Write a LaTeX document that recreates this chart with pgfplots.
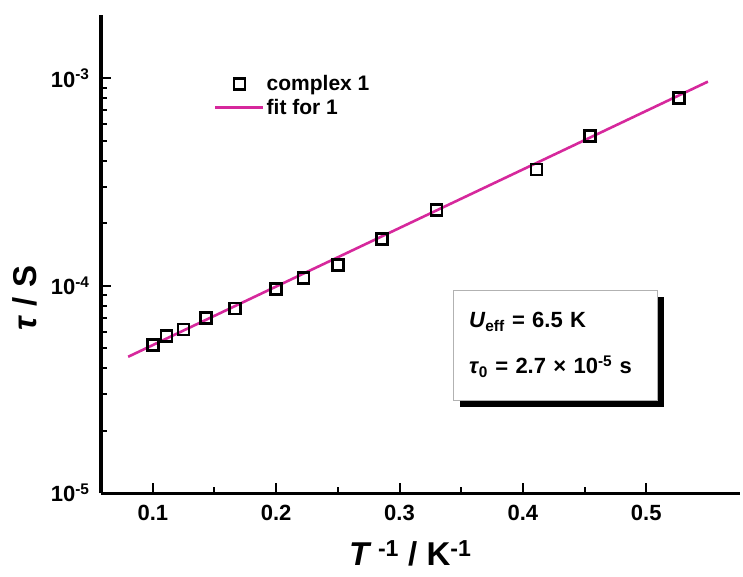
\documentclass[border=0pt]{standalone}
\usepackage{pgfplots}
\pgfplotsset{compat=1.18}
\usepackage{fontspec}
\setmainfont{Liberation Sans}
\usetikzlibrary{shadows}
\definecolor{fitpink}{RGB}{214,40,156}

\pgfplotsset{
  frame/.style={
    at={(101pt,83pt)}, anchor=south west,
    scale only axis, width=639pt, height=478pt,
    xmin=0.058, xmax=0.576,
    ymin=1e-5, ymax=2.02e-3,
    axis x line*=bottom, axis y line*=left,
    axis line style={line width=3pt},
    tick align=inside,
    xtick={0.1,0.2,0.3,0.4,0.5},
  },
}

\begin{document}
\begin{tikzpicture}
% data, labels, legend and inset
\begin{axis}[
  ymode=log, frame,
  every tick/.style={draw=none},
  xticklabels={0.1,0.2,0.3,0.4,0.5},
  ytick={1e-5,1e-4,1e-3},
  yticklabels={10\textsuperscript{-5},10\textsuperscript{-4},10\textsuperscript{-3}},
  tick label style={font=\fontsize{22}{26}\selectfont\bfseries},
  xticklabel style={yshift=-9pt},
  yticklabel style={xshift=-8pt},
  xlabel={\textit{T}\textsuperscript{ -1} / K\textsuperscript{-1}},
  ylabel={\textit{τ} / S},
  label style={font=\fontsize{33}{38}\selectfont\bfseries},
  xlabel style={at={(axis description cs:0.484,-0.127)}, anchor=center},
  ylabel style={at={(axis description cs:-0.119,0.408)}, anchor=center},
  legend image code/.code={%
    \draw[mark repeat=2,mark phase=2,#1] plot coordinates {(0pt,0pt) (24pt,0pt) (48pt,0pt)};},
  legend style={at={(axis description cs:0.172,0.882)}, anchor=north west,
    draw=none, fill=none, font=\fontsize{21}{25}\selectfont\bfseries,
    row sep=3pt, nodes={inner sep=2pt}},
  legend cell align=left,
  legend style={/tikz/every even column/.append style={column sep=8pt}},
]
% relaxation times of complex 1
\addplot[only marks, black, line width=2.6pt, mark=square, mark size=5.5pt,
  mark options={solid, line width=2.6pt, black}]
  coordinates {
  (0.1000,5.19e-5) (0.1111,5.73e-5) (0.1250,6.16e-5) (0.1429,6.97e-5)
  (0.1667,7.76e-5) (0.2000,9.62e-5) (0.2222,1.087e-4) (0.2500,1.26e-4)
  (0.2857,1.68e-4) (0.3300,2.32e-4) (0.4110,3.64e-4) (0.4545,5.28e-4)
  (0.5263,8.06e-4)};
\addlegendentry{complex 1}
% Arrhenius fit
\addplot[fitpink, line width=2.6pt] coordinates {(0.08,4.54e-5) (0.55,9.64e-4)};
\addlegendentry{fit for 1}

\node[draw=gray!60, line width=1pt, fill=white,
  drop shadow={shadow xshift=7pt, shadow yshift=-7pt, opacity=1, fill=black},
  minimum width=204pt, minimum height=110pt, inner xsep=16pt,
  text width=172pt, align=left,
  font=\fontsize{22}{26}\selectfont\bfseries]
  at (axis description cs:0.7105,0.3096)
  {\textit{U}\textsubscript{eff} = 6.5 K\\[20pt]
   \textit{τ}\textsubscript{0} = 2.7 × 10\textsuperscript{-5} s};
\end{axis}
% axis lines and tick marks
\begin{axis}[
  ymode=log, frame,
  major tick length=10pt, minor tick length=6pt,
  every tick/.style={black, line width=2pt},
  minor x tick num=1,
  xticklabels={}, yticklabels={},
]
\end{axis}
\pgfresetboundingbox
\useasboundingbox (0,0) rectangle (743pt,576pt);
\end{tikzpicture}
\end{document}
